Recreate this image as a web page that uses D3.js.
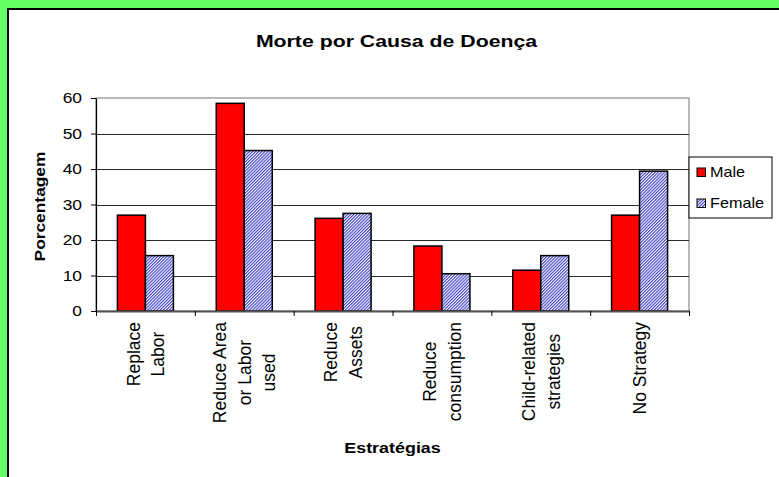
<!DOCTYPE html>
<html>
<head>
<meta charset="utf-8">
<script src="https://cdn.jsdelivr.net/npm/d3@7"></script>
<style>
  body { margin: 0; background: #66ff66; }
  svg { display: block; }
  text { font-family: Arial, "Liberation Sans", sans-serif; fill: #000; }
</style>
</head>
<body>
<div id="chart"></div>
<script>
var svgWidth = 779;
var svgHeight = 477;

// data
var categories = ["Replace Labor", "Reduce Area or Labor used", "Reduce Assets",
  "Reduce consumption", "Child-related strategies", "No Strategy"];
var categoryLines = [["Replace", "Labor"], ["Reduce Area", "or Labor", "used"], ["Reduce", "Assets"],
  ["Reduce", "consumption"], ["Child-related", "strategies"], ["No Strategy"]];
var seriesNames = ["Male", "Female"];
var maleValues = [27.0, 58.5, 26.1, 18.3, 11.5, 27.0];
var femaleValues = [15.6, 45.2, 27.5, 10.5, 15.6, 39.4];
var yTicks = [0, 10, 20, 30, 40, 50, 60];

var plot = { left: 96, right: 689, top: 98, bottom: 311 };

var svg = d3.select("#chart")
  .append("svg")
  .attr("width", svgWidth)
  .attr("height", svgHeight);

// fine hatch for the female bars
var defs = svg.append("defs");
var pat = defs.append("pattern")
  .attr("id", "hatch")
  .attr("patternUnits", "userSpaceOnUse")
  .attr("width", 2.2)
  .attr("height", 2.2)
  .attr("patternTransform", "rotate(45)");
pat.append("rect").attr("width", 2.2).attr("height", 2.2).attr("fill", "#ffffff");
pat.append("rect").attr("width", 1.1).attr("height", 2.2).attr("fill", "#3c3cc4");

// white chart area with black border on left / top
svg.append("rect")
  .attr("x", 8).attr("y", 9)
  .attr("width", 820).attr("height", 520)
  .attr("fill", "#ffffff")
  .attr("stroke", "#000")
  .attr("stroke-width", 2);

// scales
var x0 = d3.scaleBand()
  .domain(categories)
  .range([plot.left, plot.right])
  .padding(0);

var x1 = d3.scaleBand()
  .domain(seriesNames)
  .range([0, x0.bandwidth()])
  .paddingInner(0)
  .paddingOuter(0.765);

var y = d3.scaleLinear()
  .domain([0, 60])
  .range([plot.bottom, plot.top]);

var xEdges = d3.scaleLinear()
  .domain([0, categories.length])
  .range([plot.left, plot.right]);

// plot area
svg.append("rect")
  .attr("x", plot.left).attr("y", plot.top)
  .attr("width", plot.right - plot.left)
  .attr("height", plot.bottom - plot.top)
  .attr("fill", "#ffffff")
  .attr("stroke", "#8a8a8a")
  .attr("stroke-width", 1.2);

// gridlines
svg.append("g")
  .selectAll("line")
  .data(yTicks.filter(d => d > 0 && d < 60))
  .enter()
  .append("line")
  .attr("x1", plot.left).attr("x2", plot.right)
  .attr("y1", d => Math.round(y(d)) + 0.5)
  .attr("y2", d => Math.round(y(d)) + 0.5)
  .attr("stroke", "#2a2a2a")
  .attr("stroke-width", 1);

// bars
var rows = categories.map((c, i) => ({ cat: c, values: [maleValues[i], femaleValues[i]] }));

var groups = svg.append("g")
  .selectAll("g")
  .data(rows)
  .enter()
  .append("g")
  .attr("transform", d => `translate(${x0(d.cat)},0)`);

groups.selectAll("rect")
  .data(d => d.values.map((v, j) => ({ name: seriesNames[j], value: v })))
  .enter()
  .append("rect")
  .attr("x", d => x1(d.name))
  .attr("y", d => y(d.value))
  .attr("width", x1.bandwidth())
  .attr("height", d => y(0) - y(d.value))
  .attr("fill", d => d.name === "Male" ? "#ff0000" : "url(#hatch)")
  .attr("stroke", "#000")
  .attr("stroke-width", 1.5);

// y axis
var leftAxis = d3.axisLeft(y).tickValues(yTicks).tickSize(5).tickSizeOuter(0);
var yAxis = svg.append("g")
  .attr("transform", `translate(${plot.left},0)`)
  .call(leftAxis);
yAxis.select(".domain").attr("stroke", "#000").attr("stroke-width", 1.2);
yAxis.selectAll(".tick line").attr("stroke", "#000");
yAxis.selectAll(".tick text")
  .attr("x", 0)
  .attr("transform", "translate(-14,0) scale(1.2,1)")
  .style("font-size", "14.5px")
  .style("font-family", "Arial, 'Liberation Sans', sans-serif")
  .attr("fill", "#000");

// x axis, ticks on category borders
var bottomAxis = d3.axisBottom(xEdges).ticks(categories.length).tickSize(5).tickSizeOuter(0).tickFormat("");
var xAxis = svg.append("g")
  .attr("transform", `translate(0,${plot.bottom})`)
  .call(bottomAxis);
xAxis.select(".domain").attr("stroke", "#555").attr("stroke-width", 2);
xAxis.selectAll(".tick line").attr("stroke", "#000");

// category labels, rotated, lines centred
var labelTop = 322;
var lineGap = 24.5;
categoryLines.forEach(function(lines, i) {
  var cx = x0(categories[i]) + x0.bandwidth() / 2;
  var g = svg.append("g");
  var texts = g.selectAll("text")
    .data(lines)
    .enter()
    .append("text")
    .attr("text-anchor", "middle")
    .attr("x", 0)
    .attr("y", (d, j) => (j - (lines.length - 1) / 2) * lineGap + 6.5)
    .style("font-size", "17.5px")
    .text(d => d);
  var maxLen = d3.max(texts.nodes(), n => n.getComputedTextLength());
  g.attr("transform", `translate(${cx},${labelTop + maxLen / 2}) rotate(-90)`);
});

// title
svg.append("text")
  .attr("transform", "translate(396.5,46.5) scale(1.33,1)")
  .attr("text-anchor", "middle")
  .style("font-size", "16px")
  .style("font-weight", "bold")
  .text("Morte por Causa de Doença");

// axis titles
svg.append("text")
  .attr("transform", "translate(45,206.5) rotate(-90) scale(1.24,1)")
  .attr("text-anchor", "middle")
  .style("font-size", "14px")
  .style("font-weight", "bold")
  .text("Porcentagem");

svg.append("text")
  .attr("transform", `translate(${(plot.left + plot.right) / 2},452.5) scale(1.28,1)`)
  .attr("text-anchor", "middle")
  .style("font-size", "14px")
  .style("font-weight", "bold")
  .text("Estratégias");

// legend
var legend = svg.append("g").attr("transform", "translate(689,157)");
legend.append("rect")
  .attr("width", 83).attr("height", 61)
  .attr("fill", "#ffffff")
  .attr("stroke", "#000")
  .attr("stroke-width", 1);

var items = legend.selectAll("g.item")
  .data(seriesNames)
  .enter()
  .append("g")
  .attr("class", "item")
  .attr("transform", (d, i) => `translate(8,${11 + i * 31})`);

items.append("rect")
  .attr("width", 8.5).attr("height", 8.5)
  .attr("fill", d => d === "Male" ? "#ff0000" : "url(#hatch)")
  .attr("stroke", "#000")
  .attr("stroke-width", 1);

items.append("text")
  .attr("transform", "translate(13,9) scale(1.08,1)")
  .style("font-size", "15px")
  .text(d => d);
</script>
</body>
</html>
